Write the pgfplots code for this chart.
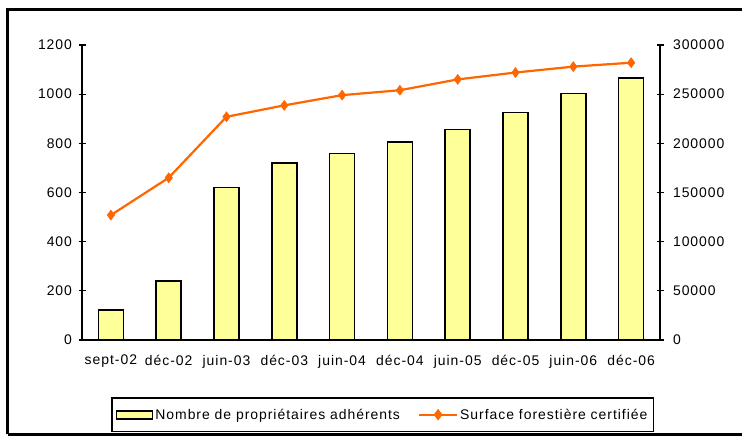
\documentclass[border=0pt]{standalone}
\usepackage{fontspec}
\setmainfont{Liberation Sans}[LetterSpace=7]
\usepackage{pgfplots}
\pgfplotsset{compat=1.18}
\definecolor{baryellow}{HTML}{FFFF99}
\definecolor{lineorange}{HTML}{FF6600}
\begin{document}
\begin{tikzpicture}[x=1bp,y=1bp]
\useasboundingbox (0,0) rectangle (742,438);
\draw[line width=3bp] (7.5,3.5) -- (7.5,428.5) -- (750,428.5);
\draw[line width=3bp] (7.5,3.5) -- (750,3.5);
\pgfplotsset{
  every axis/.append style={
    scale only axis, width=578bp, height=295bp,
    at={(82bp,98bp)}, anchor=south west,
    xmin=-0.5, xmax=9.5,
    tick label style={font=\fontsize{14}{16}\selectfont},
    /pgf/number format/fixed,
    /pgf/number format/precision=0,
    /pgf/number format/assume math mode=true,
    /pgf/number format/1000 sep={},
    scaled y ticks=false,
    tick align=center,
    major tick length=7bp,
    every tick/.style={black, line width=1.3bp},
    axis line style={line width=1.8bp},
  }
}
\begin{axis}[
  axis y line*=left, axis x line*=bottom,
  ymin=0, ymax=1200, ytick={0,200,...,1200},
  xtick={0,...,9},
  xticklabels={sept-02,déc-02,juin-03,déc-03,juin-04,déc-04,juin-05,déc-05,juin-06,déc-06},
  minor xtick={-0.5,0.5,...,9.5},
  minor tick length=7bp,
  every minor tick/.style={black, line width=1.3bp},
  xtick style={draw=none},
  xticklabel style={yshift=-8bp},
  yticklabel style={xshift=-3bp},
]
\addplot[ybar, bar width=25bp, fill=baryellow, draw=black, line width=1.6bp]
  coordinates {(0,122) (1,241) (2,621) (3,719) (4,759) (5,805) (6,857) (7,925) (8,1003) (9,1066)};
\end{axis}
\begin{axis}[
  axis y line*=right, axis x line=none,
  ymin=0, ymax=300000, ytick={0,50000,100000,150000,200000,250000,300000},
  yticklabels={0,50000,100000,150000,200000,250000,300000},
  yticklabel style={xshift=6bp},
  legend columns=2,
  legend style={at={(0.05,-0.193)}, anchor=north west, draw=black, line width=1.8bp,
    font=\fontsize{14}{16}\selectfont, inner xsep=4bp, inner ysep=9bp,
    /tikz/every even column/.append style={column sep=16bp}},
]
\addlegendimage{legend image code/.code={\draw[fill=baryellow, draw=black, line width=1.6bp] (0bp,-4bp) rectangle (36bp,4bp);}}
\addlegendentry{Nombre de propriétaires adhérents}
\addplot[color=lineorange, line width=2.2bp, mark=diamond*, mark size=5bp, mark options={fill=lineorange, line width=0.5bp},
  legend image code/.code={\draw[color=lineorange, line width=2.2bp] (0bp,0bp) -- (38bp,0bp); \fill[lineorange] (19bp,4bp) -- (22bp,0bp) -- (19bp,-4bp) -- (16bp,0bp) -- cycle;}]
  coordinates {(0,127000) (1,165000) (2,227000) (3,238600) (4,249000) (5,254000) (6,265000) (7,272000) (8,278000) (9,282000)};
\addlegendentry{Surface forestière certifiée}
\end{axis}
\end{tikzpicture}
\end{document}
